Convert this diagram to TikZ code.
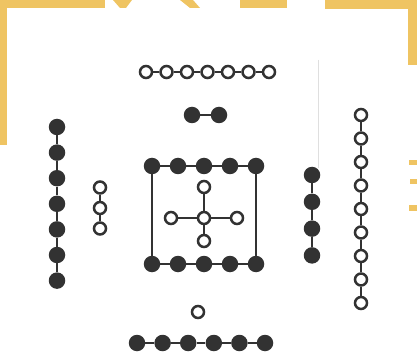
\documentclass[tikz,border=0pt]{standalone}
\usetikzlibrary{positioning}
\definecolor{frameyellow}{RGB}{239,196,98}
\definecolor{inkgray}{RGB}{50,50,50}
\tikzset{
  yindot/.style={circle, fill=inkgray, minimum size=16.5pt, inner sep=0pt},
  yangdot/.style={circle, draw=inkgray, line width=2.5pt, fill=white, minimum size=12pt, inner sep=0pt},
  link/.style={draw=inkgray, line width=2.2pt},
}
\begin{document}
\begin{tikzpicture}[x=1pt, y=-1pt]
    \useasboundingbox (0,0) rectangle (417,355);
    % Yellow frame of the page
    \fill[frameyellow] (0,0) rectangle (105,8);
    \fill[frameyellow] (0,0) rectangle (7,145);
    \fill[frameyellow] (113,0) -- (132,0) -- (126,8) -- (120,8) -- cycle;
    \fill[frameyellow] (180,0) -- (193,0) -- (200,8) -- (190,8) -- cycle;
    \fill[frameyellow] (240,0) rectangle (287,8);
    \fill[frameyellow] (325,0) -- (417,0) -- (417,65) -- (408,65) -- (408,9) -- (325,9) -- cycle;
    \fill[frameyellow] (409,160) rectangle (417,165);
    \fill[frameyellow] (410,179) rectangle (417,184);
    \fill[frameyellow] (409,205) rectangle (417,211);
    \draw[gray!25, line width=0.6pt] (318,60) -- (318,168);

    % North: seven and two
    \foreach \i in {1,...,7}
        \node[yangdot] (top\i) at ({146+20.5*(\i-1)},72) {};
    \node[yindot] (p1) at (192,115) {};
    \node[yindot] (p2) at (219,115) {};

    % Centre: ten around five
    \foreach \i in {1,...,5} {
        \node[yindot] (sqt\i) at ({152+26*(\i-1)},166) {};
        \node[yindot] (sqb\i) at ({152+26*(\i-1)},264) {};
    }
    \node[yangdot] (c0) at (204,218) {};
    \node[yangdot] (cu) at (204,187) {};
    \node[yangdot] (cd) at (204,241) {};
    \node[yangdot] (cl) at (171,218) {};
    \node[yangdot] (cr) at (237,218) {};

    % West: seven and three
    \foreach \i in {1,...,7}
        \node[yindot] (l\i) at (57,{127+25.6*(\i-1)}) {};
    \foreach \i in {1,...,3}
        \node[yangdot] (m\i) at (100,{187.5+20.5*(\i-1)}) {};

    % East: four and nine
    \foreach \i in {1,...,4}
        \node[yindot] (r\i) at (312,{175+26.8*(\i-1)}) {};
    \foreach \i in {1,...,9}
        \node[yangdot] (n\i) at (361,{115+23.5*(\i-1)}) {};

    % South: one and six
    \node[yangdot] (b0) at (198,312) {};
    \foreach \i in {1,...,6}
        \node[yindot] (b\i) at ({137+25.6*(\i-1)},343) {};

    % Links
    \foreach \i [count=\j from 2] in {1,...,6} {
        \draw[link] (top\i) -- (top\j);
        \draw[link] (l\i) -- (l\j);
    }
    \draw[link] (p1) -- (p2);
    \foreach \i [count=\j from 2] in {1,...,4} {
        \draw[link] (sqt\i) -- (sqt\j);
        \draw[link] (sqb\i) -- (sqb\j);
    }
    \draw[link] (sqt1) -- (sqb1);
    \draw[link] (sqt5) -- (sqb5);
    \foreach \k in {cu,cd,cl,cr}
        \draw[link] (c0) -- (\k);
    \foreach \i [count=\j from 2] in {1,2}
        \draw[link] (m\i) -- (m\j);
    \foreach \i [count=\j from 2] in {1,2,3}
        \draw[link] (r\i) -- (r\j);
    \foreach \i [count=\j from 2] in {1,...,8}
        \draw[link] (n\i) -- (n\j);
    \foreach \i [count=\j from 2] in {1,...,5}
        \draw[link] (b\i) -- (b\j);
\end{tikzpicture}
\end{document}
